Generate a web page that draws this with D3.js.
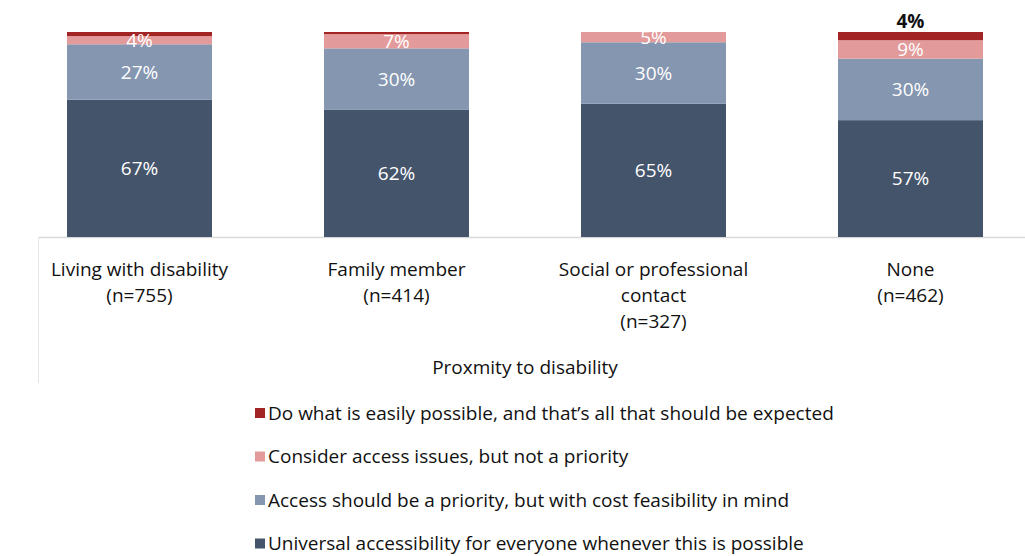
<!DOCTYPE html>
<html>
<head>
<meta charset="utf-8">
<script src="https://cdn.jsdelivr.net/npm/d3@7"></script>
<style>
  html, body { margin: 0; padding: 0; background: #fff; }
  svg { display: block; font-family: "Open Sans", Lato, sans-serif; }
</style>
</head>
<body>
<svg id="chart" width="1025" height="556"></svg>
<script>
// Proximity groups (each label line is a separate entry)
const categories = ["living", "family", "social", "none"];
const categoryLabels = [
  ["Living with disability", "(n=755)"],
  ["Family member", "(n=414)"],
  ["Social or professional", "contact", "(n=327)"],
  ["None", "(n=462)"]
];

// Response shares (%), bottom to top of each stack
const universal = [67, 62, 65, 57];
const priority  = [27, 30, 30, 30];
const consider  = [4, 7, 5, 9];
const easily    = [2, 1, 0, 4];

const seriesKeys = ["universal", "priority", "consider", "easily"];
const seriesNames = [
  "Universal accessibility for everyone whenever this is possible",
  "Access should be a priority, but with cost feasibility in mind",
  "Consider access issues, but not a priority",
  "Do what is easily possible, and that\u2019s all that should be expected"
];
const seriesColors = ["#44546b", "#8496b0", "#e39a9a", "#a32424"];
const axisTitle = "Proxmity to disability";

const rows = categories.map((c, i) => ({
  cat: c,
  universal: universal[i],
  priority: priority[i],
  consider: consider[i],
  easily: easily[i]
}));

const svg = d3.select("#chart");
const baseY = 237, topY = 32;
const x = d3.scaleBand().domain(categories).range([15.6, 1034.4]).paddingInner(0.4358).paddingOuter(0.2);
const y = d3.scaleLinear().domain([0, 100]).range([baseY, topY]);
const color = d3.scaleOrdinal().domain(seriesKeys).range(seriesColors);

const stacked = d3.stack().keys(seriesKeys)(rows);

// frame lines: category axis and left edge
svg.append("line").attr("x1", 38).attr("x2", 1025).attr("y1", baseY + 0.5).attr("y2", baseY + 0.5)
  .attr("stroke", "#d9d9d9").attr("stroke-width", 1.5);
svg.append("line").attr("x1", 38.5).attr("x2", 38.5).attr("y1", baseY).attr("y2", 383)
  .attr("stroke", "#e6e6e6").attr("stroke-width", 1);

const layers = svg.append("g").selectAll("g").data(stacked).join("g")
  .attr("fill", d => color(d.key));
layers.selectAll("rect").data(d => d).join("rect")
  .attr("x", d => x(d.data.cat))
  .attr("width", x.bandwidth())
  .attr("y", d => y(d[1]))
  .attr("height", d => y(d[0]) - y(d[1]));

// value labels
const labelG = svg.append("g").attr("font-size", 19).attr("text-anchor", "middle");
stacked.forEach(layer => {
  layer.forEach(d => {
    const v = d[1] - d[0];
    if (layer.key === "easily") {
      if (v >= 3) {
        labelG.append("text")
          .attr("x", x(d.data.cat) + x.bandwidth() / 2)
          .attr("y", y(d[1]) - 4)
          .attr("fill", "#111").attr("font-weight", "bold")
          .text(v + "%");
      }
      return;
    }
    if (v <= 0) return;
    labelG.append("text")
      .attr("x", x(d.data.cat) + x.bandwidth() / 2)
      .attr("y", (y(d[0]) + y(d[1])) / 2)
      .attr("dy", "0.36em")
      .attr("fill", "#fff")
      .text(v + "%");
  });
});

// category labels
const catG = svg.append("g").attr("font-size", 19).attr("fill", "#111").attr("text-anchor", "middle");
categories.forEach((c, i) => {
  const cx = x(c) + x.bandwidth() / 2;
  const t = catG.append("text").attr("x", cx).attr("y", 276);
  categoryLabels[i].forEach((line, j) => {
    t.append("tspan").attr("x", cx).attr("dy", j === 0 ? 0 : 26).text(line);
  });
});

svg.append("text").attr("x", 525).attr("y", 374).attr("text-anchor", "middle")
  .attr("font-size", 19).attr("fill", "#111").text(axisTitle);

// legend, top entry is the top stack segment
const legendOrder = seriesKeys.slice().reverse();
const legend = svg.append("g").attr("font-size", 19).attr("fill", "#111");
legendOrder.forEach((k, i) => {
  const yy = 413 + i * 43.5;
  legend.append("rect").attr("x", 255).attr("y", yy - 5).attr("width", 10).attr("height", 10)
    .attr("fill", color(k));
  legend.append("text").attr("x", 268).attr("y", yy).attr("dy", "0.36em")
    .text(seriesNames[seriesKeys.indexOf(k)]);
});
</script>
</body>
</html>
